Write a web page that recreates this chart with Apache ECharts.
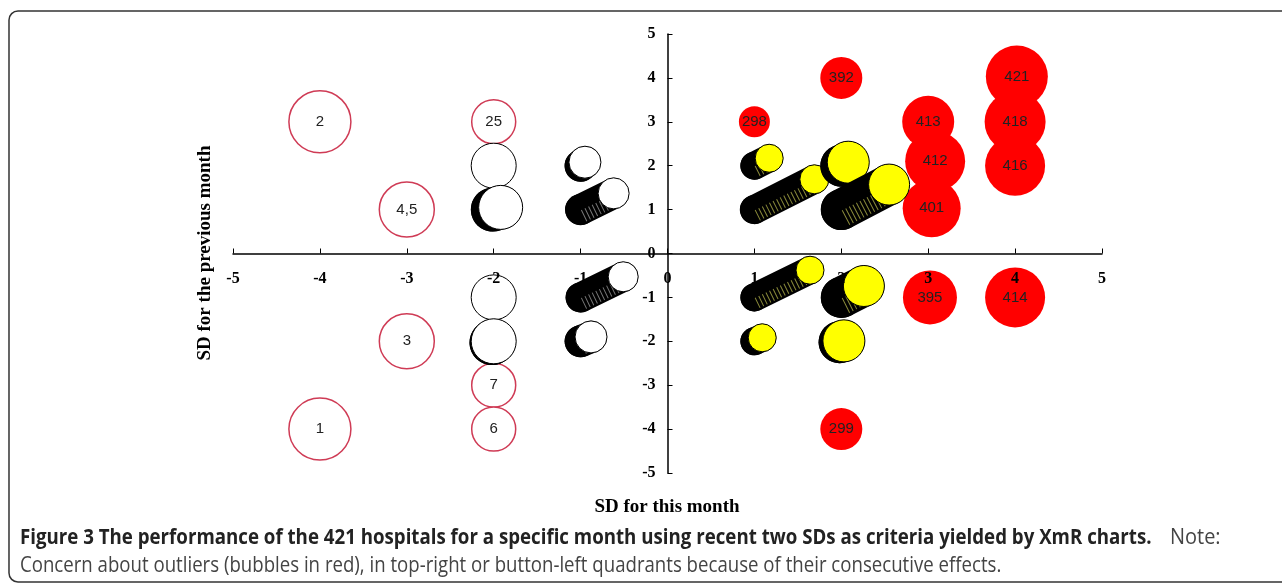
<!DOCTYPE html>
<html>
<head>
<meta charset="utf-8">
<script src="https://cdn.jsdelivr.net/npm/echarts/dist/echarts.min.js"></script>
<style>
  html, body { margin: 0; padding: 0; background: #fff; }
  #box { width: 1282px; height: 584px; }
</style>
</head>
<body>
<div id="box"></div>
<script>
// axis range (SD)
var sdMin = -5;
var sdMax = 5;

// outliers drawn as red rings: [x SD, y SD, bubble size, label]
var ringBubbles = [
  [-4, 3, 3.1, '2'],
  [-2, 3, 2.2, '25'],
  [-3, 1, 2.75, '4,5'],
  [-3, -2, 2.75, '3'],
  [-4, -4, 3.1, '1'],
  [-2, -3, 2.2, '7'],
  [-2, -4, 2.2, '6']
];

// outliers drawn as filled red bubbles
var redBubbles = [
  [2, 4, 2.1, '392'],
  [1, 3, 1.55, '298'],
  [3, 3, 2.6, '413'],
  [3.08, 2.1, 3.0, '412'],
  [3.04, 1.03, 2.9, '401'],
  [4.02, 4.03, 3.1, '421'],
  [4, 3, 3.05, '418'],
  [4, 2, 3.0, '416'],
  [3.02, -1, 2.7, '395'],
  [4, -1, 3.0, '414'],
  [2, -4, 2.1, '299']
];

// plain white bubbles
var whiteBubbles = [
  [-2, 2, 2.25],
  [-2, -1, 2.25]
];

// stacked bubbles (many hospitals): [x start, y start, x end, y end, size]
var whiteStacks = [
  [-2.01, 1, -1.92, 1.05, 2.2],
  [-2.02, -2.03, -2, -2, 2.25],
  [-1, 2, -0.95, 2.08, 1.6],
  [-1, 1, -0.62, 1.37, 1.55],
  [-1, -1, -0.51, -0.53, 1.5],
  [-1, -2, -0.88, -1.9, 1.6]
];
var yellowStacks = [
  [1, 2, 1.17, 2.17, 1.4],
  [1, 1, 1.69, 1.69, 1.45],
  [2, 2, 2.08, 2.08, 2.1],
  [2, 1, 2.55, 1.57, 2.05],
  [1, -1, 1.64, -0.38, 1.4],
  [2, -1, 2.26, -0.74, 2.05],
  [1, -2, 1.09, -1.92, 1.4],
  [1.98, -2.02, 2.03, -1.99, 2.1]
];

var sizeScale = 10; // size unit -> radius px

var myChart = echarts.init(document.getElementById('box'));

var gridBox = { left: 233, right: 180, top: 34, bottom: 111 };
var plotW = 1282 - gridBox.left - gridBox.right;
var plotH = 584 - gridBox.top - gridBox.bottom;

function stackRenderer(faceColor, hatchColor) {
  return function (params, api) {
    var p0 = api.coord([api.value(0), api.value(1)]);
    var p1 = api.coord([api.value(2), api.value(3)]);
    var r = api.value(4) * sizeScale;
    var dx = p1[0] - p0[0], dy = p1[1] - p0[1];
    var len = Math.sqrt(dx * dx + dy * dy) || 1;
    // normal pointing to lower side
    var nx = -dy / len, ny = dx / len;
    if (ny < 0) { nx = -nx; ny = -ny; }
    var off = r * 0.45;
    var children = [
      {
        type: 'line',
        shape: { x1: p0[0], y1: p0[1], x2: p1[0], y2: p1[1] },
        style: { stroke: '#000', lineWidth: 2 * r, lineCap: 'round' }
      },
      {
        type: 'circle',
        shape: { cx: p0[0], cy: p0[1], r: r },
        style: { fill: '#000' }
      }
    ];
    if (len > 3) {
      children.push({
        type: 'line',
        shape: { x1: p0[0] + nx * off, y1: p0[1] + ny * off, x2: p1[0] + nx * off, y2: p1[1] + ny * off },
        style: { stroke: hatchColor, lineWidth: r * 0.8, lineDash: [1, 3] }
      });
    }
    children.push({
      type: 'circle',
      shape: { cx: p1[0], cy: p1[1], r: r },
      style: { fill: faceColor, stroke: '#000', lineWidth: 1 }
    });
    return { type: 'group', children: children };
  };
}

var tickFont = {
  color: '#000',
  fontFamily: 'Liberation Serif',
  fontWeight: 'bold',
  fontSize: 16,
  hideOverlap: false
};

var bubbleLabel = {
  show: true,
  position: 'inside',
  color: '#222',
  fontFamily: 'Liberation Sans',
  fontSize: 15,
  formatter: function (p) { return p.data[3]; }
};

var option = {
  animation: false,
  grid: gridBox,
  xAxis: {
    type: 'value',
    min: sdMin,
    max: sdMax,
    interval: 1,
    offset: -plotH / 2,
    zlevel: 1,
    axisLine: { onZero: false, lineStyle: { color: '#000', width: 1.5 } },
    axisTick: { inside: true, length: 5, lineStyle: { color: '#000' } },
    axisLabel: Object.assign({ margin: 17 }, tickFont),
    splitLine: { show: false }
  },
  yAxis: {
    type: 'value',
    min: sdMin,
    max: sdMax,
    interval: 1,
    offset: -plotW / 2,
    zlevel: 1,
    axisLine: { onZero: false, lineStyle: { color: '#000', width: 1.5 } },
    axisTick: { inside: true, length: 5, lineStyle: { color: '#000' } },
    axisLabel: Object.assign({ margin: 12 }, tickFont),
    splitLine: { show: false }
  },
  graphic: [
    {
      type: 'rect',
      shape: { x: 9, y: 11, width: 1320, height: 571, r: 9 },
      style: { fill: 'none', stroke: '#333', lineWidth: 1.5 },
      silent: true
    },
    {
      type: 'text',
      x: 667, y: 507,
      style: {
        text: 'SD for this month',
        fill: '#000',
        font: 'bold 19px "Liberation Serif"',
        textAlign: 'center',
        textVerticalAlign: 'middle'
      }
    },
    {
      type: 'text',
      x: 205, y: 253,
      rotation: Math.PI / 2,
      style: {
        text: 'SD for the previous month',
        fill: '#000',
        font: 'bold 19px "Liberation Serif"',
        textAlign: 'center',
        textVerticalAlign: 'middle'
      }
    },
    {
      type: 'text',
      x: 20, y: 538,
      scaleX: 0.89,
      style: {
        text: 'Figure 3 The performance of the 421 hospitals for a specific month using recent two SDs as criteria yielded by XmR charts.',
        font: 'bold 21px "Open Sans"',
        fill: '#222',
        textVerticalAlign: 'middle'
      }
    },
    {
      type: 'text',
      x: 1170, y: 538,
      scaleX: 0.95,
      style: {
        text: 'Note:',
        font: '21px "Open Sans"',
        fill: '#444',
        textVerticalAlign: 'middle'
      }
    },
    {
      type: 'text',
      x: 20, y: 566,
      scaleX: 0.887,
      style: {
        text: 'Concern about outliers (bubbles in red), in top-right or button-left quadrants because of their consecutive effects.',
        font: '21px "Open Sans"',
        fill: '#444',
        textVerticalAlign: 'middle'
      }
    }
  ],
  series: [
    {
      name: 'ring',
      type: 'scatter',
      data: ringBubbles,
      symbolSize: function (v) { return v[2] * sizeScale * 2; },
      itemStyle: { color: '#fff', borderColor: '#cf3b55', borderWidth: 1.5, opacity: 1 },
      label: bubbleLabel,
      z: 3
    },
    {
      name: 'white',
      type: 'scatter',
      data: whiteBubbles,
      symbolSize: function (v) { return v[2] * sizeScale * 2; },
      itemStyle: { color: '#fff', borderColor: '#000', borderWidth: 1, opacity: 1 },
      z: 3
    },
    {
      name: 'whiteStacks',
      type: 'custom',
      data: whiteStacks,
      encode: { x: [0, 2], y: [1, 3] },
      renderItem: stackRenderer('#fff', '#777'),
      z: 4
    },
    {
      name: 'red',
      type: 'scatter',
      data: redBubbles,
      symbolSize: function (v) { return v[2] * sizeScale * 2; },
      itemStyle: { color: '#ff0000', opacity: 1 },
      label: bubbleLabel,
      z: 3
    },
    {
      name: 'yellowStacks',
      type: 'custom',
      data: yellowStacks,
      encode: { x: [0, 2], y: [1, 3] },
      renderItem: stackRenderer('#ffff00', '#8a8a3a'),
      z: 4
    }
  ]
};

myChart.setOption(option);
</script>
</body>
</html>
